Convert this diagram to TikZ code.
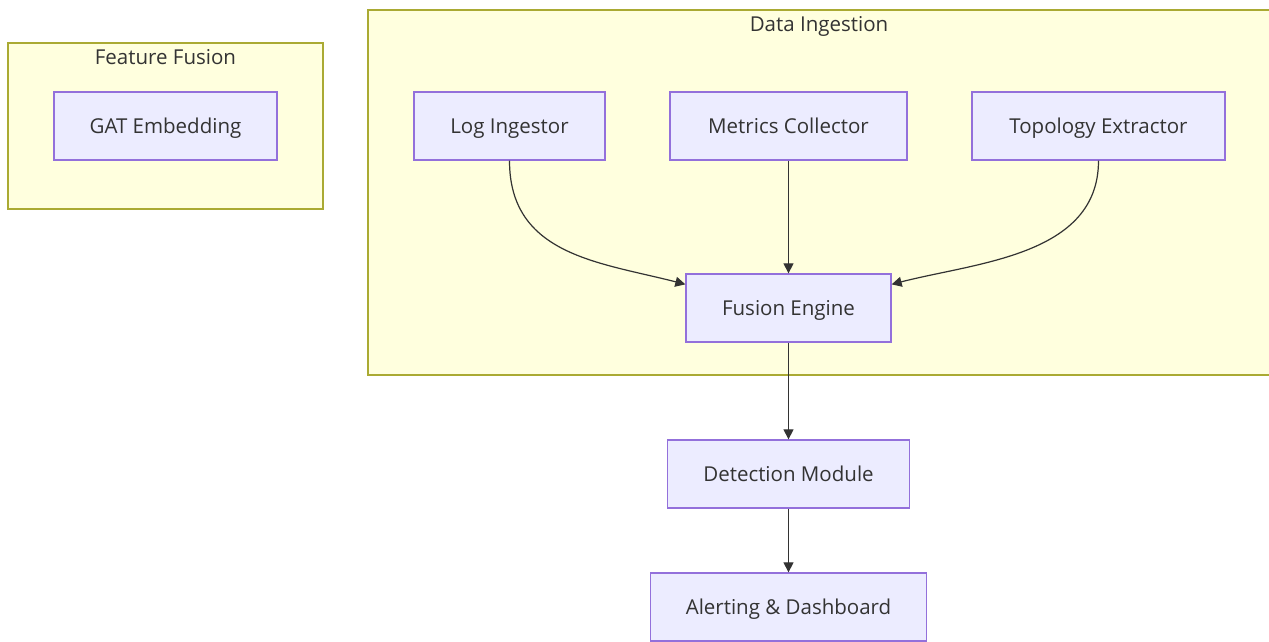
\documentclass[tikz,border=0pt]{standalone}
\usepackage{fontspec}
\setmainfont{Open Sans}
\usetikzlibrary{calc,arrows.meta}
\definecolor{clfill}{HTML}{FFFFDE}
\definecolor{cldraw}{HTML}{AAAA33}
\definecolor{ndfill}{HTML}{ECECFF}
\definecolor{nddraw}{HTML}{9370DB}
\definecolor{txt}{HTML}{333333}
\tikzset{
  lbl/.style={text=txt, font=\fontsize{20.5}{24}\selectfont, inner sep=0pt,
    text height=14.6pt, text depth=0pt},
  cluster/.style={draw=cldraw, fill=clfill, line width=1.3pt, inner sep=0pt},
  cltitle/.style={lbl},
  box/.style={lbl, draw=nddraw, fill=ndfill, line width=1.3pt, minimum height=68pt},
  link/.style={draw=txt, line width=1.2pt, -{Triangle[length=10pt,width=10pt]}}
}
\begin{document}
\begin{tikzpicture}[x=1pt,y=-1pt]
\useasboundingbox (0,0) rectangle (1269,642);
\clip (0,0) rectangle (1269,642);
\fill[white] (0,0) rectangle (1269,642);

% subgraph frames
\node[cluster, minimum width=315pt, minimum height=166pt] (ff) at (165.5,126) {};
\node[cltitle] (fft) at (165.5,57) {Feature Fusion};
\node[cluster, minimum width=912pt, minimum height=365pt] (di) at (824,192.5) {};
\node[cltitle] (dit) at (819,24) {Data Ingestion};

% components
\node[box, minimum width=223pt] (gat) at (165.5,126) {GAT Embedding};
\node[box, minimum width=191pt] (log) at (509.5,126) {Log Ingestor};
\node[box, minimum width=237pt] (met) at (788.5,126) {Metrics Collector};
\node[box, minimum width=253pt] (top) at (1098.5,126) {Topology Extractor};
\node[box, minimum width=205pt] (fus) at (788.5,308) {Fusion Engine};
\node[box, minimum width=242pt] (det) at (788.5,474) {Detection Module};
\node[box, minimum width=276pt] (alr) at (788.5,607) {Alerting \& Dashboard};

% data flow
\coordinate (fusL) at ($(fus.north west)+(0,11)$);
\coordinate (fusR) at ($(fus.north east)+(0,11)$);
\draw[link] (log.south) .. controls ($(log.south)+(0,95)$) and ($(fusL)+(-85,-22)$) .. (fusL);
\draw[link] (met.south) -- (fus.north);
\draw[link] (top.south) .. controls ($(top.south)+(0,95)$) and ($(fusR)+(85,-22)$) .. (fusR);
\draw[link] (fus.south) -- (det.north);
\draw[link] (det.south) -- (alr.north);
\end{tikzpicture}
\end{document}
